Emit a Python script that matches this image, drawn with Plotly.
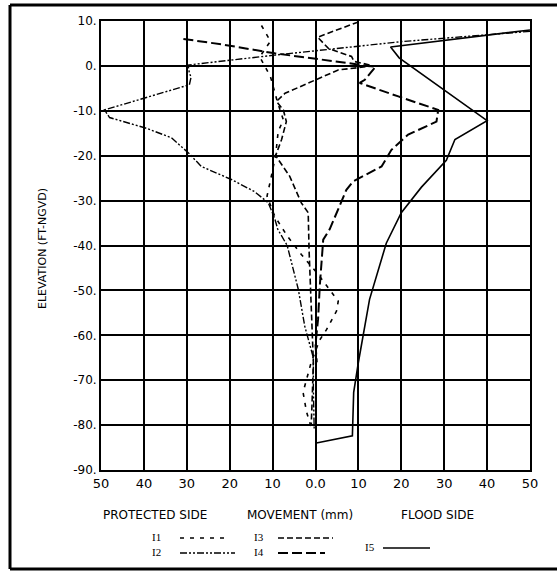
import plotly.graph_objects as go

# Inclinometer profiles: horizontal movement (mm, negative = protected side) vs elevation (ft NGVD)
i1_x = [-12.6, -10.5, -13.0, -10.5, -9.0, -7.5, -8.7, -9.3, -10.5, -11.3, -9.5, -6.5, -3.3, 0.6, 5.3, 4.9, 2.6, 1.0, -1.0, -2.9, -2.1, -1.0]
i1_y = [9.0, 5.5, 2.0, -2.4, -7.6, -12.0, -14.6, -20.0, -25.5, -29.0, -33.5, -38.0, -42.0, -46.4, -52.4, -54.6, -58.7, -61.0, -66.0, -72.7, -77.0, -80.5]

i2_x = [50.0, 20.0, -9.5, -21.9, -29.7, -29.4, -29.0, -29.4, -49.2, -48.0, -39.4, -33.6, -29.6, -26.6, -19.6, -14.2, -11.0, -9.5, -8.8, -6.6, -4.0, -2.5, -0.5, -0.5, -0.3]
i2_y = [7.7, 5.4, 2.4, 1.0, 0.2, -1.6, -2.5, -4.2, -9.8, -11.5, -13.9, -16.0, -19.4, -22.4, -25.3, -28.0, -30.5, -34.0, -36.4, -40.0, -49.8, -58.0, -65.0, -72.0, -81.0]

i3_x = [10.0, 0.5, 3.0, 8.4, 9.0, 13.5, 5.3, -7.1, -9.1, -7.5, -6.8, -7.9, -9.3, -6.0, -3.3, -1.7, -1.5, -1.2, -0.8, -0.5, -0.8, -1.0]
i3_y = [9.8, 6.4, 3.9, 2.1, 1.0, 0.0, -0.9, -6.1, -7.9, -9.8, -12.4, -16.4, -20.0, -24.6, -30.5, -32.7, -41.0, -50.0, -58.0, -66.0, -75.0, -80.0]

i4_x = [-30.8, -21.9, -9.5, 10.0, 14.0, 11.5, 10.3, 19.3, 28.6, 28.2, 21.6, 17.7, 15.4, 8.8, 7.2, 3.3, 1.8, 1.0, 0.6, 0.0, 0.3]
i4_y = [6.0, 4.8, 2.8, 0.4, -0.2, -3.1, -3.8, -6.8, -9.8, -12.4, -15.3, -18.7, -22.4, -25.7, -27.6, -36.4, -38.7, -49.0, -56.4, -62.0, -66.0]

i5_x = [50.0, 17.5, 19.5, 40.0, 32.5, 30.5, 24.7, 20.0, 16.5, 12.6, 10.0, 8.9, 8.6, 0.2]
i5_y = [8.0, 4.2, 1.8, -12.2, -16.4, -21.0, -27.0, -32.7, -39.5, -52.0, -66.0, -72.7, -82.4, -84.0]

series_names = ["I1", "I2", "I3", "I4", "I5"]
x_ticks = [-50, -40, -30, -20, -10, 0, 10, 20, 30, 40, 50]
x_tick_text = ["50", "40", "30", "20", "10", "0.0", "10", "20", "30", "40", "50"]
y_ticks = [-90, -80, -70, -60, -50, -40, -30, -20, -10, 0, 10]
y_tick_text = ["-90.", "-80.", "-70.", "-60.", "-50.", "-40.", "-30.", "-20.", "-10.", "0.", "10."]

styles = {
    "I1": dict(dash="4px,6px", width=1.6),
    "I2": dict(dash="7px,2px,2px,2px,2px,2px", width=1.4),
    "I3": dict(dash="6px,3px", width=1.6),
    "I4": dict(dash="10px,4px", width=2.0),
    "I5": dict(dash="solid", width=1.6),
}

W, H = 559, 573
L, R, T, B = 101, 530, 21, 470


def px(x):
    return (x - L) / (R - L)


def py(y):
    return (B - y) / (B - T)


fig = go.Figure()
for name, xs, ys in zip(series_names,
                        [i1_x, i2_x, i3_x, i4_x, i5_x],
                        [i1_y, i2_y, i3_y, i4_y, i5_y]):
    st = styles[name]
    fig.add_trace(go.Scatter(x=xs, y=ys, mode="lines", name=name, showlegend=False,
                             line=dict(color="black", width=st["width"], dash=st["dash"])))

shapes = []
# outer frame (left, top, bottom)
frame = dict(type="line", xref="paper", yref="paper", line=dict(color="black", width=3))
shapes.append(dict(frame, x0=px(10), x1=px(10), y0=py(5), y1=py(569)))
shapes.append(dict(frame, x0=px(10), x1=px(557), y0=py(5), y1=py(5)))
shapes.append(dict(frame, x0=px(10), x1=px(557), y0=py(569), y1=py(569)))

# legend samples
legend_items = [
    ("I1", 150, 537, 180, 227),
    ("I2", 150, 552, 180, 235),
    ("I3", 252, 537, 278, 333),
    ("I4", 252, 552, 278, 325),
    ("I5", 363, 547, 383, 430),
]
annotations = []
for name, tx, ty, x0, x1 in legend_items:
    st = styles[name]
    shapes.append(dict(type="line", xref="paper", yref="paper",
                       x0=px(x0), x1=px(x1), y0=py(ty + 1), y1=py(ty + 1),
                       line=dict(color="black", width=st["width"], dash=st["dash"])))
    annotations.append(dict(text=name, xref="paper", yref="paper", x=px(tx), y=py(ty),
                            xanchor="left", yanchor="middle", showarrow=False,
                            font=dict(family="Liberation Serif", size=11, color="black")))

for text, cx in [("PROTECTED SIDE", 155), ("MOVEMENT (mm)", 300), ("FLOOD SIDE", 437)]:
    annotations.append(dict(text=text, xref="paper", yref="paper", x=px(cx), y=py(515),
                            xanchor="center", yanchor="middle", showarrow=False,
                            font=dict(family="DejaVu Sans", size=12, color="black")))

annotations.append(dict(text="ELEVATION (FT-NGVD)", xref="paper", yref="paper",
                        x=px(42), y=py(249), textangle=-90, xanchor="center", yanchor="middle",
                        showarrow=False, font=dict(family="DejaVu Sans", size=11, color="black")))

fig.update_layout(
    width=W, height=H,
    margin=dict(l=L, r=W - R, t=T, b=H - B),
    paper_bgcolor="white", plot_bgcolor="white",
    shapes=shapes, annotations=annotations,
    xaxis=dict(range=[-50, 50], tickvals=x_ticks, ticktext=x_tick_text,
               showgrid=True, gridcolor="black", gridwidth=1.8,
               showline=True, linecolor="black", linewidth=2, mirror=True,
               zeroline=False, ticks="", ticklen=0,
               tickfont=dict(family="DejaVu Sans", size=13, color="black")),
    yaxis=dict(range=[-90, 10], tickvals=y_ticks, ticktext=y_tick_text,
               showgrid=True, gridcolor="black", gridwidth=1.8,
               showline=True, linecolor="black", linewidth=2, mirror=True,
               zeroline=False, ticks="", ticklen=0,
               tickfont=dict(family="DejaVu Sans", size=12, color="black")),
)

fig.write_html("out.html")
